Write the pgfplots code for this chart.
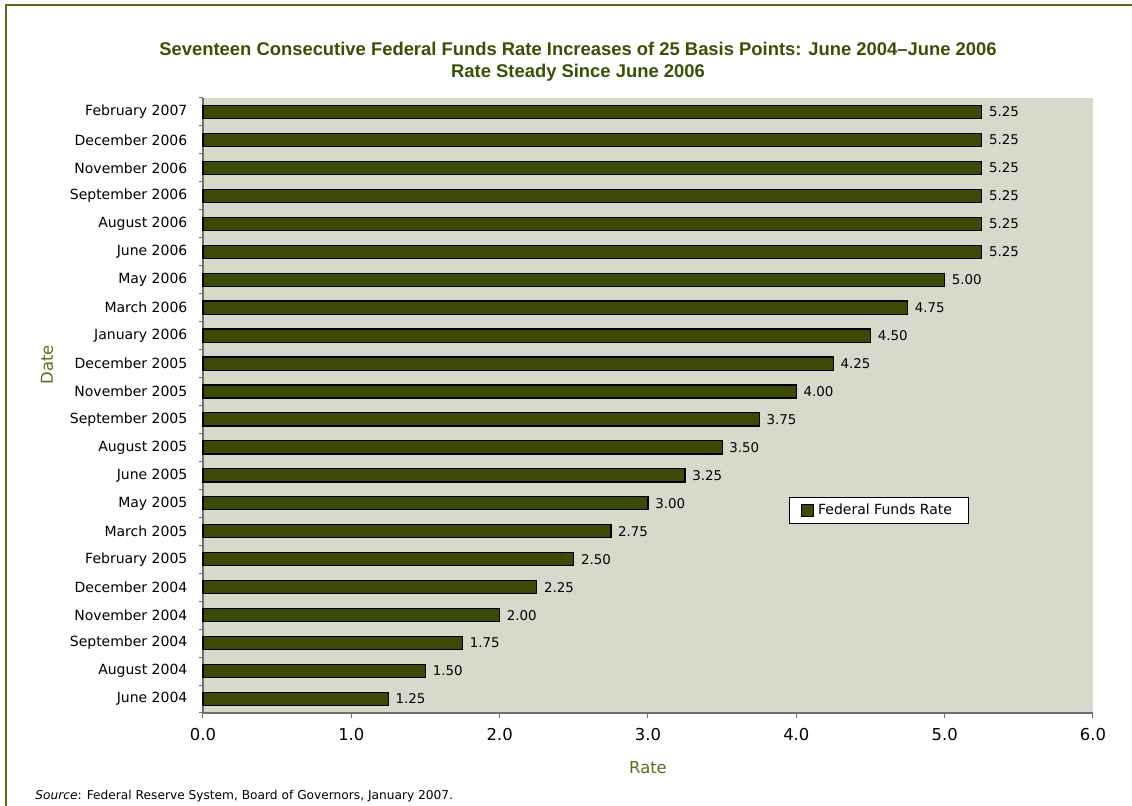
\documentclass[border=0pt]{standalone}
\usepackage{pgfplots}
\pgfplotsset{compat=1.18}
\usepackage{fontspec}
\setmainfont{DejaVu Sans}
\newfontfamily\titlefont[Ligatures=TeX]{Liberation Sans}
\definecolor{barc}{HTML}{3B4A05}
\definecolor{titlec}{HTML}{3A5004}
\definecolor{labc}{HTML}{5B6B22}
\definecolor{framec}{HTML}{5A6B1E}
\definecolor{bgc}{HTML}{D8D9CB}
\definecolor{axc}{HTML}{6E6E6E}
\begin{document}
\begin{tikzpicture}
\path[use as bounding box] (0,0) rectangle (566pt,403pt);
\draw[framec, line width=1pt] (3pt,0) -- (3pt,400.5pt) -- (566pt,400.5pt);
\node[font=\titlefont\fontsize{9.2}{12}\selectfont\bfseries, text=titlec, align=center] at (289pt,378.5pt) {Seventeen Consecutive Federal Funds Rate Increases of 25 Basis Points: June 2004–June 2006};
\node[font=\titlefont\fontsize{9.2}{12}\selectfont\bfseries, text=titlec, align=center] at (289pt,366.5pt) {Rate Steady Since June 2006};
\begin{axis}[
  at={(101.5pt,46.5pt)}, anchor=south west,
  scale only axis, width=445pt, height=307.5pt,
  xbar, bar width=0.47,
  xmin=0, xmax=6, ymin=-0.5, ymax=21.5,
  axis x line*=bottom, axis y line*=left,
  axis line style={draw=axc, line width=1pt},
  axis background/.style={fill=bgc},
  tick align=outside,
  tick style={draw=axc, line width=0.5pt},
  xtick={0,1,2,3,4,5,6},
  major tick length=2.5pt,
  /pgf/number format/assume math mode=true,
  xticklabel={\pgfmathprintnumber[fixed,fixed zerofill,precision=1]{\tick}},
  xticklabel style={font=\fontsize{8.2}{10}\selectfont, yshift=-1.5pt},
  ytick={0,...,21},
  yticklabels={June 2004,August 2004,September 2004,November 2004,December 2004,February 2005,March 2005,May 2005,June 2005,August 2005,September 2005,November 2005,December 2005,January 2006,March 2006,May 2006,June 2006,August 2006,September 2006,November 2006,December 2006,February 2007},
  y tick style={draw=none},
  minor ytick={-0.5,0.5,...,21.5},
  minor y tick style={draw=axc, line width=0.5pt},
  minor tick length=2pt,
  yticklabel style={font=\fontsize{7}{9}\selectfont, xshift=-1.8pt},
  nodes near coords={\pgfmathprintnumber[fixed,fixed zerofill,precision=2]{\pgfplotspointmeta}},
  nodes near coords style={font=\fontsize{6.7}{8}\selectfont, text=black},
  legend style={at={(0.6584,0.3512)}, anchor=north west, draw=black, fill=white,
    font=\fontsize{7}{9}\selectfont, inner xsep=6pt, inner ysep=1.2pt, row sep=0pt},
  legend image code/.code={\draw[fill=barc,draw=black,line width=0.4pt] (0pt,-3pt) rectangle (6pt,3pt);},
  clip=false,
]
\addplot[fill=barc, draw=black, line width=0.6pt] coordinates {
(1.25,0) (1.50,1) (1.75,2) (2.00,3) (2.25,4) (2.50,5) (2.75,6) (3.00,7) (3.25,8) (3.50,9) (3.75,10) (4.00,11) (4.25,12) (4.50,13) (4.75,14) (5.00,15) (5.25,16) (5.25,17) (5.25,18) (5.25,19) (5.25,20) (5.25,21)
};
\addlegendentry{Federal Funds Rate}
\end{axis}
\node[text=labc, font=\fontsize{8.2}{10}\selectfont] at (324pt,19pt) {Rate};
\node[text=labc, font=\fontsize{8.2}{10}\selectfont, rotate=90] at (23.5pt,220.5pt) {Date};
\node[anchor=west, font=\fontsize{6.1}{7}\selectfont, inner sep=0pt] at (17.5pt,5pt) {\textit{Source}: Federal Reserve System, Board of Governors, January 2007.};
\end{tikzpicture}
\end{document}
